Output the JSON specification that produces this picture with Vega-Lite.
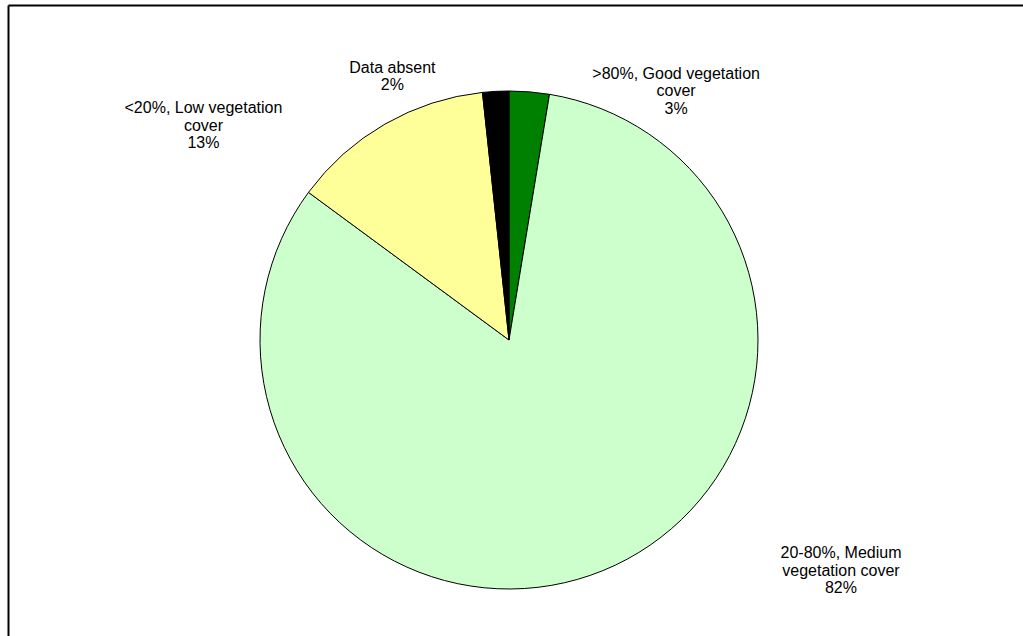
{
  "$schema": "https://vega.github.io/schema/vega-lite/v6.json",
  "width": 1015,
  "height": 631,
  "autosize": {"type": "none"},
  "padding": {"left": 8, "top": 5, "right": 0, "bottom": 0},
  "background": "white",
  "view": {"stroke": null, "fill": null},
  "config": {"view": {"stroke": null, "fill": null}, "style": {"cell": {"stroke": null}}},
  "data": {
    "values": [
      {"category": "Good", "order": 1, "value": 2.6, "label": ">80%, Good vegetation\ncover\n3%"},
      {"category": "Medium", "order": 2, "value": 82.5, "label": "20-80%, Medium\nvegetation cover\n82%"},
      {"category": "Low", "order": 3, "value": 13.2, "label": "<20%, Low vegetation\ncover\n13%"},
      {"category": "Absent", "order": 4, "value": 1.7, "label": "Data absent\n2%"}
    ]
  },
  "layer": [
    {
      "mark": {"type": "point", "opacity": 0, "size": 0},
      "encoding": {
        "x": {"field": "order", "type": "quantitative", "scale": {"domain": [0, 10]}, "axis": {"orient": "top", "domain": true, "domainColor": "black", "domainWidth": 2, "ticks": false, "labels": false, "grid": false, "title": null}},
        "y": {"field": "value", "type": "quantitative", "scale": {"domain": [0, 100]}, "axis": {"orient": "left", "domain": true, "domainColor": "black", "domainWidth": 2, "ticks": false, "labels": false, "grid": false, "title": null, "domainCap": "butt"}}
      }
    },
    {
      "mark": {"type": "arc", "outerRadius": 249, "x": 501, "y": 335, "stroke": "black", "strokeWidth": 1},
      "encoding": {
        "theta": {"field": "value", "type": "quantitative", "stack": true},
        "order": {"field": "order", "type": "quantitative"},
        "color": {
          "field": "category",
          "type": "nominal",
          "scale": {"domain": ["Good", "Medium", "Low", "Absent"], "range": ["#008000", "#CCFFCC", "#FFFF99", "#000000"]},
          "legend": null
        }
      }
    },
    {
      "mark": {
        "type": "text",
        "x": 501,
        "y": 335,
        "radius": {"expr": "datum.category === 'Good' ? 314.5 : datum.category === 'Medium' ? 394.5 : datum.category === 'Low' ? 383.6 : 296"},
        "thetaOffset": {"expr": "datum.category === 'Good' ? 0.4786 : datum.category === 'Medium' ? -0.6137 : datum.category === 'Low' ? -0.4 : -0.3515"},
        "font": "Liberation Sans",
        "fontSize": 16,
        "lineBreak": "\n",
        "lineHeight": 17.5,
        "align": "center",
        "baseline": "middle",
        "color": "black"
      },
      "encoding": {
        "theta": {"field": "value", "type": "quantitative", "stack": true},
        "order": {"field": "order", "type": "quantitative"},
        "text": {"field": "label", "type": "nominal"}
      }
    }
  ]
}
